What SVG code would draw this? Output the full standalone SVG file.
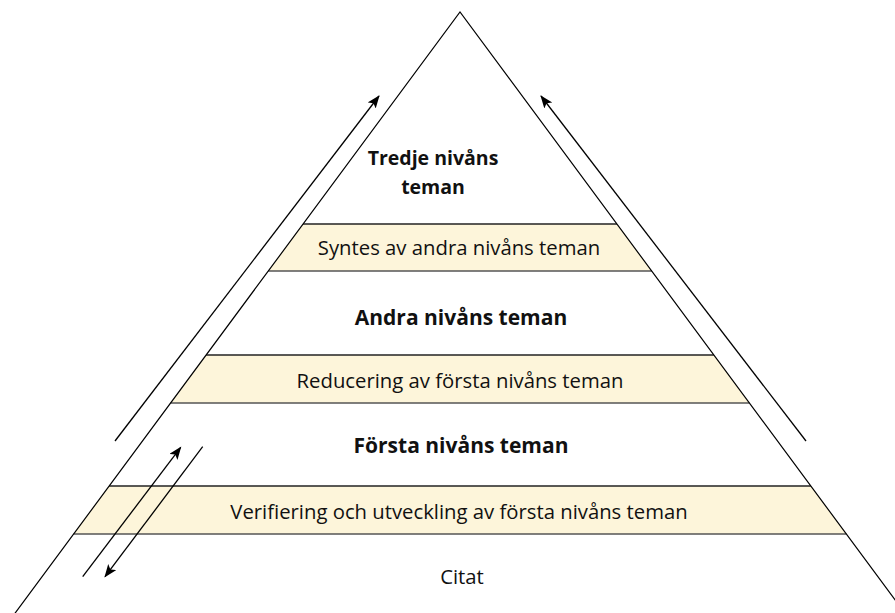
<svg xmlns="http://www.w3.org/2000/svg" width="895" height="613" viewBox="0 0 895 613">
<defs>
<marker id="ah" markerWidth="14" markerHeight="12" refX="12" refY="5" orient="auto" markerUnits="userSpaceOnUse">
<path d="M0,0 L13,5 L0,10 L3,5 z" fill="#000"/>
</marker>
<style>
.band{fill:#fdf5da;stroke:none}
.edge{stroke:#222;stroke-width:1.3}
.edge2{stroke:#555;stroke-width:1.3}
.pyr{fill:none;stroke:#000;stroke-width:1.2}
.arr{fill:none;stroke:#000;stroke-width:1.3;marker-end:url(#ah)}
.t{font-family:"Open Sans",Lato,sans-serif;font-size:20.3px;fill:#111;text-anchor:middle}
.b{font-family:"Open Sans",Lato,sans-serif;font-size:21px;font-weight:bold;fill:#111;text-anchor:middle}
.b2{font-family:"Open Sans",Lato,sans-serif;font-size:19.5px;font-weight:bold;fill:#111;text-anchor:middle}
</style>
</defs>
<rect width="895" height="613" fill="#fff"/>
<g id="band-syntes">
<polygon class="band" points="303.1,224 616.9,224 651.7,271 268.3,271"/>
<line class="edge" x1="303.1" y1="224" x2="616.9" y2="224"/>
<line class="edge2" x1="268.3" y1="271" x2="651.7" y2="271"/>
<text class="t" x="459" y="255">Syntes av andra nivåns teman</text>
</g>
<g id="band-reducering">
<polygon class="band" points="206.2,355 713.8,355 749.3,403 170.7,403"/>
<line class="edge" x1="206.2" y1="355" x2="713.8" y2="355"/>
<line class="edge2" x1="170.7" y1="403" x2="749.3" y2="403"/>
<text class="t" x="460" y="388">Reducering av första nivåns teman</text>
</g>
<g id="band-verifiering">
<polygon class="band" points="109.2,486 810.8,486 846.3,534 73.7,534"/>
<line class="edge" x1="109.2" y1="486" x2="810.8" y2="486"/>
<line class="edge2" x1="73.7" y1="534" x2="846.3" y2="534"/>
<text class="t" x="459" y="519">Verifiering och utveckling av första nivåns teman</text>
</g>
<g id="pyramid">
<polyline class="pyr" points="10,620 460,12 910,620"/>
</g>
<g id="tredje">
<text class="b2" x="433" y="165">Tredje nivåns</text>
<text class="b2" x="433" y="194">teman</text>
</g>
<g id="andra">
<text class="b" x="461" y="325">Andra nivåns teman</text>
</g>
<g id="forsta">
<text class="b" x="461" y="453">Första nivåns teman</text>
</g>
<g id="citat">
<text class="t" x="462" y="584">Citat</text>
</g>
<g id="connectors">
<line class="arr" x1="115" y1="441" x2="379" y2="96"/>
<line class="arr" x1="806" y1="441" x2="541" y2="96"/>
<line class="arr" x1="82.7" y1="576.7" x2="180.7" y2="447.3"/>
<line class="arr" x1="202.7" y1="446.7" x2="105" y2="576.7"/>
</g>
</svg>
